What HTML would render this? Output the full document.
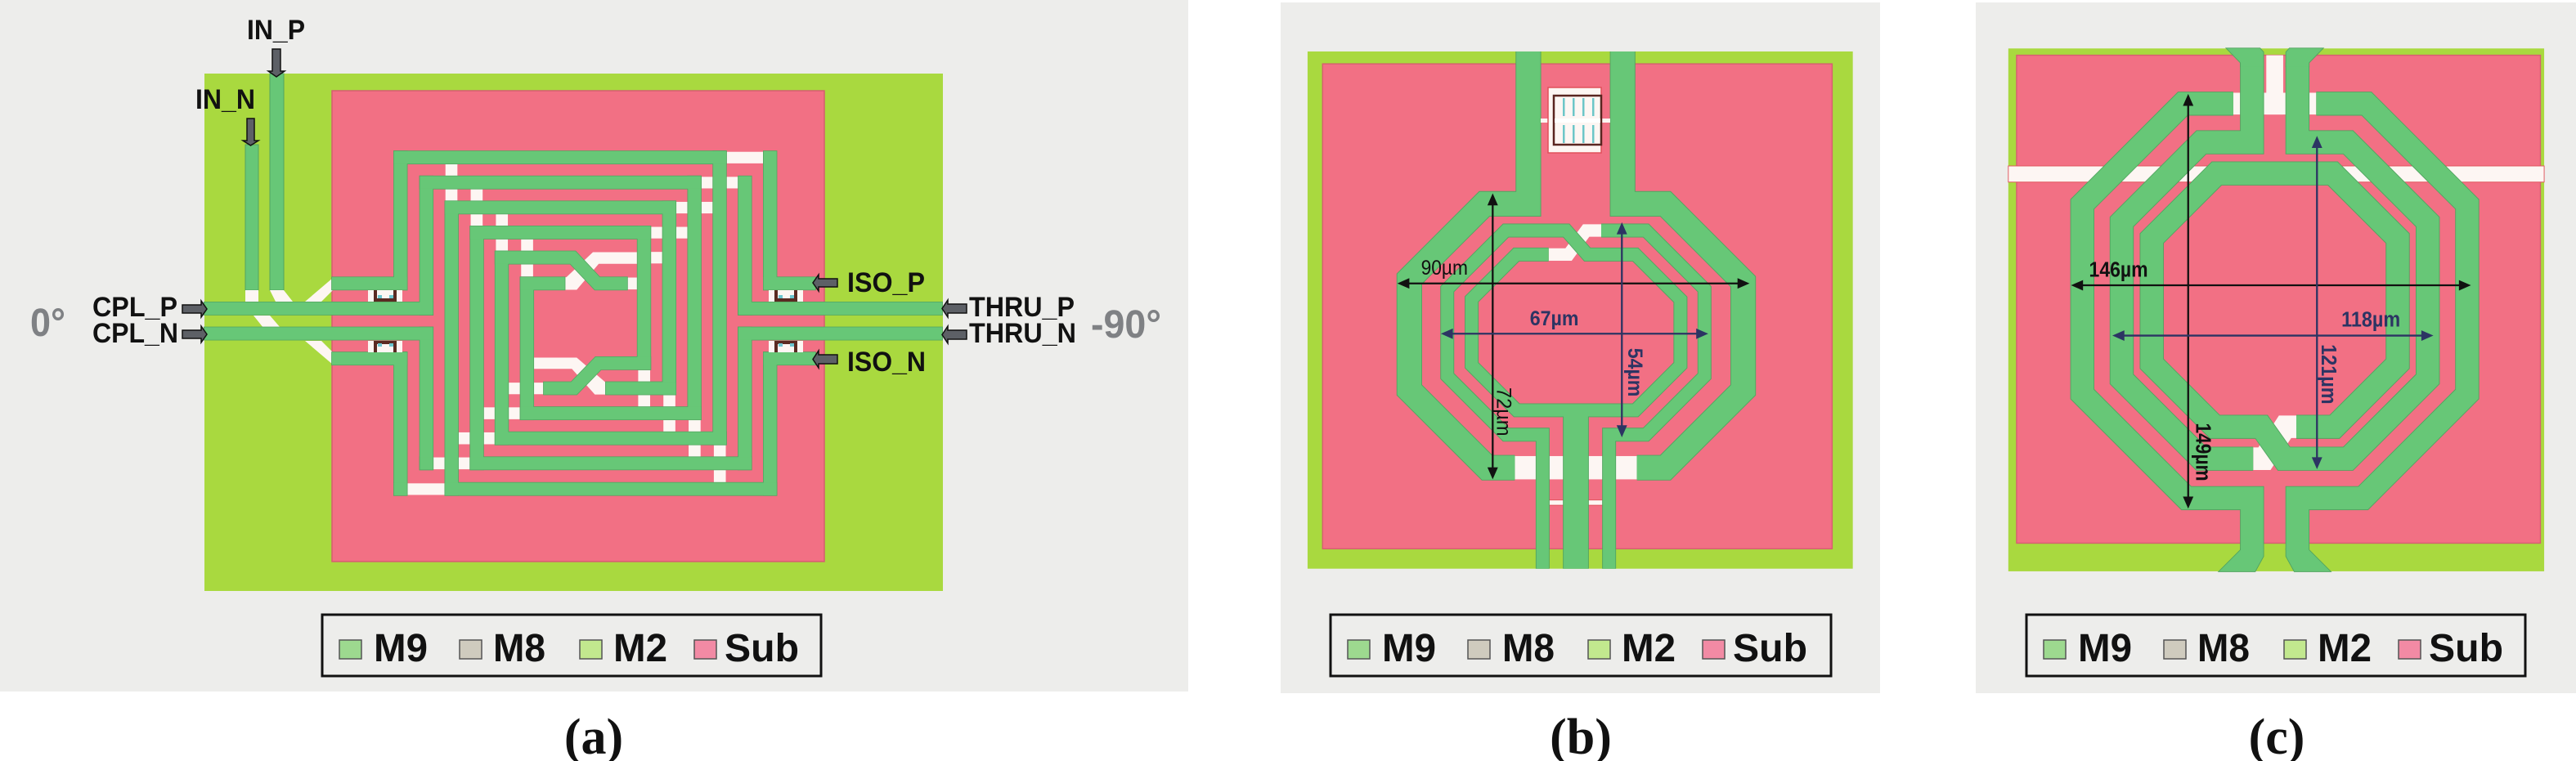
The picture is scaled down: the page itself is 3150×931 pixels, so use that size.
<!DOCTYPE html>
<html><head><meta charset="utf-8">
<style>
html,body{margin:0;padding:0;background:#fff;}
svg{display:block;}
text{font-family:"Liberation Sans",Arial,sans-serif;}
.lbl{font-weight:bold;font-size:34px;fill:#111;}
.deg{font-weight:bold;font-size:48px;fill:#7f8184;}
.leg{font-weight:bold;font-size:48px;fill:#111;}
.cap{font-family:"Liberation Serif","Times New Roman",serif;font-weight:bold;font-size:62px;fill:#111;}
.arr{fill:#5d6066;stroke:#111;stroke-width:1.5;}
</style></head><body>
<svg width="3150" height="931" viewBox="0 0 3150 931" xmlns="http://www.w3.org/2000/svg">
<defs>
<g id="spg">
  <rect x="207" y="222" width="40" height="443"/>
  <rect x="207" y="865" width="40" height="457"/>
  <rect x="287" y="302" width="40" height="443"/>
  <rect x="287" y="785" width="40" height="455"/>
  <rect x="365" y="382" width="40" height="940"/>
  <rect x="443" y="462" width="40" height="778"/>
  <rect x="520" y="542" width="40" height="618"/>
  <rect x="598" y="625" width="40" height="455"/>
  <rect x="960" y="462" width="40" height="458"/>
  <rect x="1038" y="382" width="40" height="618"/>
  <rect x="1116" y="302" width="40" height="778"/>
  <rect x="1194" y="222" width="40" height="938"/>
  <rect x="1272" y="302" width="40" height="443"/>
  <rect x="1272" y="785" width="40" height="455"/>
  <rect x="1350" y="222" width="40" height="443"/>
  <rect x="1350" y="865" width="40" height="457"/>
  <rect x="207" y="222" width="1027" height="40"/>
  <rect x="287" y="302" width="869" height="40"/>
  <rect x="365" y="382" width="713" height="40"/>
  <rect x="443" y="462" width="557" height="40"/>
  <polygon points="520,542 768,542 843,625 928,625 928,665 828,665 752,582 520,582"/>
  <rect x="598" y="625" width="137" height="40"/>
  <polygon points="1000,880 830,880 755,960 670,960 670,1000 772,1000 847,920 1000,920"/>
  <rect x="862" y="960" width="216" height="40"/>
  <rect x="598" y="1040" width="558" height="40"/>
  <rect x="520" y="1120" width="714" height="40"/>
  <rect x="443" y="1200" width="869" height="40"/>
  <rect x="287" y="1200" width="40" height="40"/>
  <rect x="365" y="1282" width="1025" height="40"/>
  <rect x="207" y="1282" width="40" height="40"/>
  <rect x="15" y="625" width="232" height="40"/>
  <rect x="-380" y="705" width="707" height="40"/>
  <rect x="-380" y="785" width="707" height="40"/>
  <rect x="15" y="865" width="232" height="40"/>
  <rect x="1350" y="625" width="160" height="40"/>
  <rect x="1272" y="705" width="630" height="40"/>
  <rect x="1272" y="785" width="630" height="40"/>
  <rect x="1350" y="865" width="160" height="40"/>
</g>
</defs>

<rect width="3150" height="931" fill="#fff"/>
<rect x="0" y="0" width="1453" height="846" fill="#ededeb"/>
<rect x="1566" y="3" width="733" height="845" fill="#ededeb"/>
<rect x="2416" y="3" width="734" height="845" fill="#ededeb"/>

<!-- ================= PANEL A ================= -->
<rect x="250" y="90" width="903" height="633" fill="#a9d93f"/>
<rect x="406" y="111" width="602" height="576" fill="#f27084" stroke="#d65e70" stroke-width="1.5"/>

<!-- IN feed lines -->
<rect x="330" y="90" width="17" height="265" fill="#67c777" stroke="#52a460" stroke-width="1"/>
<rect x="300" y="177" width="16" height="178" fill="#67c777" stroke="#52a460" stroke-width="1"/>
<!-- white underpass diagonals left -->
<g fill="#fdf6f3">
  <rect x="300" y="355" width="16" height="14"/>
  <polygon points="330,355 347,355 358,369 337,369"/>
  <polygon points="310,386 330,386 343,401 322,401"/>
  <polygon points="373,369 393,369 407,355 407,340"/>
  <polygon points="373,417 393,417 407,431 407,446"/>
</g>

<g transform="translate(400,100) scale(0.39541,0.38265)">
  <g fill="#fdf6f3">
    <rect x="366" y="263" width="37" height="38"/>
    <rect x="366" y="343" width="37" height="38"/>
    <rect x="444" y="343" width="37" height="38"/>
    <rect x="444" y="423" width="37" height="38"/>
    <rect x="522" y="423" width="37" height="38"/>
    <rect x="522" y="503" width="37" height="38"/>
    <rect x="600" y="503" width="37" height="38"/>
    <rect x="600" y="583" width="37" height="40"/>
    <rect x="1234" y="224" width="116" height="37"/>
    <rect x="1156" y="304" width="37" height="37"/>
    <rect x="1234" y="304" width="38" height="37"/>
    <rect x="1078" y="384" width="38" height="37"/>
    <rect x="1156" y="384" width="38" height="37"/>
    <rect x="1000" y="464" width="38" height="37"/>
    <rect x="1078" y="464" width="38" height="37"/>
    <rect x="1000" y="544" width="38" height="37"/>
    <rect x="928" y="626" width="32" height="38"/>
    <rect x="962" y="920" width="37" height="40"/>
    <rect x="560" y="962" width="38" height="37"/>
    <rect x="638" y="962" width="32" height="37"/>
    <rect x="962" y="1000" width="37" height="40"/>
    <rect x="1040" y="1000" width="37" height="40"/>
    <rect x="483" y="1041" width="37" height="38"/>
    <rect x="560" y="1041" width="38" height="38"/>
    <rect x="1040" y="1080" width="37" height="40"/>
    <rect x="1118" y="1080" width="37" height="40"/>
    <rect x="405" y="1121" width="38" height="38"/>
    <rect x="483" y="1121" width="37" height="38"/>
    <rect x="1118" y="1160" width="37" height="40"/>
    <rect x="1196" y="1160" width="37" height="40"/>
    <rect x="327" y="1201" width="38" height="38"/>
    <rect x="405" y="1201" width="38" height="38"/>
    <rect x="1196" y="1240" width="37" height="42"/>
    <rect x="247" y="1284" width="118" height="37"/>
    <polygon points="960,545 822,545 740,625 735,625 735,665 772,665 840,582 960,582"/>
    <polygon points="638,882 772,882 862,962 862,1000 828,1000 757,918 638,918"/>
  </g>
  <use href="#spg" fill="#67c777" stroke="#52a460" stroke-width="4"/>
  <use href="#spg" fill="#67c777"/>
</g>

<!-- vias -->
<g>
  <rect x="450" y="355" width="42" height="14" fill="#fdf6f3"/>
  <rect x="457" y="355" width="4" height="14" fill="#5a2a22"/><rect x="481" y="355" width="4" height="14" fill="#5a2a22"/><rect x="457" y="365" width="28" height="4" fill="#5a2a22"/>
  <rect x="462" y="361" width="5" height="4" fill="#6cc6d0"/><rect x="476" y="361" width="5" height="4" fill="#6cc6d0"/>
  <rect x="450" y="417" width="42" height="14" fill="#fdf6f3"/>
  <rect x="457" y="417" width="4" height="14" fill="#5a2a22"/><rect x="481" y="417" width="4" height="14" fill="#5a2a22"/><rect x="457" y="417" width="28" height="4" fill="#5a2a22"/>
  <rect x="462" y="420" width="5" height="4" fill="#6cc6d0"/><rect x="476" y="420" width="5" height="4" fill="#6cc6d0"/>
  <rect x="940" y="355" width="42" height="14" fill="#fdf6f3"/>
  <rect x="947" y="355" width="4" height="14" fill="#5a2a22"/><rect x="971" y="355" width="4" height="14" fill="#5a2a22"/><rect x="947" y="365" width="28" height="4" fill="#5a2a22"/>
  <rect x="952" y="361" width="5" height="4" fill="#6cc6d0"/><rect x="966" y="361" width="5" height="4" fill="#6cc6d0"/>
  <rect x="940" y="417" width="42" height="14" fill="#fdf6f3"/>
  <rect x="947" y="417" width="4" height="14" fill="#5a2a22"/><rect x="971" y="417" width="4" height="14" fill="#5a2a22"/><rect x="947" y="417" width="28" height="4" fill="#5a2a22"/>
  <rect x="952" y="420" width="5" height="4" fill="#6cc6d0"/><rect x="966" y="420" width="5" height="4" fill="#6cc6d0"/>
</g>

<!-- arrows -->
<polygon class="arr" points="333,60 343,60 343,87 348,87 338,94 328,87 333,87"/>
<polygon class="arr" points="302,145 311,145 311,172 316,172 306.5,178 297,172 302,172"/>
<polygon class="arr" points="223,373 246,373 246,368 253,378 246,388 246,383 223,383"/>
<polygon class="arr" points="223,404 246,404 246,399 253,409 246,419 246,414 223,414"/>
<polygon class="arr" points="1024,341 1001,341 1001,336 994,346 1001,356 1001,351 1024,351"/>
<polygon class="arr" points="1024,434 1001,434 1001,429 994,439.5 1001,450 1001,445 1024,445"/>
<polygon class="arr" points="1182,372 1159,372 1159,367 1152,377.5 1159,388 1159,383 1182,383"/>
<polygon class="arr" points="1182,404 1159,404 1159,399 1152,409.5 1159,420 1159,415 1182,415"/>

<!-- labels -->
<text class="lbl" x="302" y="48" textLength="71" lengthAdjust="spacingAndGlyphs">IN_P</text>
<text class="lbl" x="239" y="133" textLength="73" lengthAdjust="spacingAndGlyphs">IN_N</text>
<text class="lbl" x="113" y="387" textLength="104" lengthAdjust="spacingAndGlyphs">CPL_P</text>
<text class="lbl" x="113" y="419" textLength="105" lengthAdjust="spacingAndGlyphs">CPL_N</text>
<text class="lbl" x="1036" y="357" textLength="95" lengthAdjust="spacingAndGlyphs">ISO_P</text>
<text class="lbl" x="1036" y="454" textLength="96" lengthAdjust="spacingAndGlyphs">ISO_N</text>
<text class="lbl" x="1185" y="387" textLength="129" lengthAdjust="spacingAndGlyphs">THRU_P</text>
<text class="lbl" x="1185" y="419" textLength="131" lengthAdjust="spacingAndGlyphs">THRU_N</text>
<text class="deg" x="37" y="411" textLength="43" lengthAdjust="spacingAndGlyphs">0°</text>
<text class="deg" x="1334" y="413" textLength="86" lengthAdjust="spacingAndGlyphs">-90°</text>

<!-- ================= PANEL B ================= -->
<g transform="translate(1570,40) scale(0.459184)">
  <rect x="63" y="50" width="1452" height="1378" fill="#a9d93f"/>
  <rect x="103" y="83" width="1357" height="1292" fill="#f27084" stroke="#d65e70" stroke-width="3"/>
  <rect x="615" y="1128" width="325" height="62" fill="#fdf6f3"/>
  <rect x="706" y="1245" width="144" height="14" fill="#fdf6f3" stroke="#e0505a" stroke-width="2"/>
  <path d="M705,591 H758 L805,527 H845" fill="none" stroke="#fdf6f3" stroke-width="33"/>
  <g fill="none" stroke="#52a460" stroke-linejoin="miter" stroke-linecap="butt">
    <path d="M651,50 V456 H534 L334,656 V952 L541,1159 H615" stroke-width="68"/>
    <path d="M940,1159 H1016 L1223,952 V663 L1016,456 H902 V50" stroke-width="68"/>
    <path d="M689,1428 V1071 H591 L435,915 V683 L591,527 H752 L808,591 H936 L1056,711 V886 L936,1006 H620 L500,886 V710 L619,591 H705" stroke-width="37"/>
    <path d="M845,527 H964 L1120,683 V915 L964,1071 H866 V1428" stroke-width="37"/>
  </g>
  <rect x="743" y="995" width="69" height="433" fill="#52a460"/>
  <g fill="none" stroke="#67c777" stroke-linejoin="miter" stroke-linecap="butt">
    <path d="M651,50 V456 H534 L334,656 V952 L541,1159 H615" stroke-width="64"/>
    <path d="M940,1159 H1016 L1223,952 V663 L1016,456 H902 V50" stroke-width="64"/>
    <path d="M689,1428 V1071 H591 L435,915 V683 L591,527 H752 L808,591 H936 L1056,711 V886 L936,1006 H620 L500,886 V710 L619,591 H705" stroke-width="33"/>
    <path d="M845,527 H964 L1120,683 V915 L964,1071 H866 V1428" stroke-width="33"/>
  </g>
  <rect x="745" y="995" width="65" height="433" fill="#67c777"/>
  <!-- dims -->
  <g stroke="#111" stroke-width="5">
    <line x1="328" y1="668" x2="1214" y2="668"/>
    <line x1="556" y1="456" x2="556" y2="1162"/>
  </g>
  <g fill="#111">
    <polygon points="302,668 334,654 334,682"/>
    <polygon points="1240,668 1208,654 1208,682"/>
    <polygon points="556,428 542,460 570,460"/>
    <polygon points="556,1190 542,1158 570,1158"/>
  </g>
  <g stroke="#2c3463" stroke-width="5">
    <line x1="444" y1="802" x2="1104" y2="802"/>
    <line x1="900" y1="531" x2="900" y2="1052"/>
  </g>
  <g fill="#2c3463">
    <polygon points="418,802 450,788 450,816"/>
    <polygon points="1130,802 1098,788 1098,816"/>
    <polygon points="900,505 886,537 914,537"/>
    <polygon points="900,1078 886,1046 914,1046"/>
  </g>
  <text x="365" y="645" font-size="54" fill="#111" textLength="125" lengthAdjust="spacingAndGlyphs">90&#181;m</text>
  <text x="655" y="780" font-size="54" font-weight="bold" fill="#2c3463" textLength="130" lengthAdjust="spacingAndGlyphs">67&#181;m</text>
  <text transform="translate(567,945) rotate(90)" font-size="54" fill="#111" textLength="130" lengthAdjust="spacingAndGlyphs">72&#181;m</text>
  <text transform="translate(917,840) rotate(90)" font-size="54" font-weight="bold" fill="#2c3463" textLength="130" lengthAdjust="spacingAndGlyphs">54&#181;m</text>
</g>
<!-- capacitor -->
<g>
  <rect x="1884" y="145" width="85" height="5" fill="#fdf6f3"/>
  <rect x="1893" y="107" width="65" height="80" fill="#fdf6f3" stroke="#e0505a" stroke-width="1.5"/>
  <rect x="1900" y="117" width="58" height="60" fill="#fdf6f3" stroke="#5a2520" stroke-width="2.5"/>
  <rect x="1901" y="145" width="56" height="5" fill="#fff"/>
  <g fill="#6cc6c8">
    <rect x="1911" y="120" width="2.5" height="22"/><rect x="1923" y="120" width="2.5" height="22"/><rect x="1935" y="120" width="2.5" height="22"/><rect x="1947" y="120" width="2.5" height="22"/>
    <rect x="1911" y="153" width="2.5" height="22"/><rect x="1923" y="153" width="2.5" height="22"/><rect x="1935" y="153" width="2.5" height="22"/><rect x="1947" y="153" width="2.5" height="22"/>
  </g>
</g>

<!-- ================= PANEL C ================= -->
<g transform="translate(2420,40) scale(0.459184)">
  <rect x="78" y="42" width="1427" height="1393" fill="#a9d93f"/>
  <rect x="100" y="60" width="1395" height="1300" fill="#f27084" stroke="#d65e70" stroke-width="3"/>
  <rect x="78" y="355" width="1427" height="43" fill="#fdf6f3" stroke="#e0505a" stroke-width="2"/>
  <rect x="765" y="60" width="45" height="158" fill="#fdf6f3"/>
  <rect x="677" y="160" width="221" height="58" fill="#fdf6f3"/>
  <path d="M730,1135 H760 L815,1050 H845" fill="none" stroke="#fdf6f3" stroke-width="60"/>
  <g fill="none" stroke="#52a460" stroke-linejoin="miter" stroke-linecap="butt" stroke-width="64">
    <path d="M727,1378 V1240 H552 L275,963 V457 L543,189 H677"/>
    <path d="M898,189 H1032 L1300,457 V963 L1023,1240 H848 V1378"/>
    <path d="M727,80 V292 H592 L380,504 V923 L592,1135 H730"/>
    <path d="M845,1050 H947 L1115,882 V548 L942,375 H633 L460,548 V882 L628,1050 H752 L812,1135 H983 L1195,923 V504 L983,292 H848 V80"/>
  </g>
  <g fill="#52a460" stroke="#52a460" stroke-width="4">
    <polygon points="697,1375 757,1375 757,1395 735,1435 640,1435 697,1378"/>
    <polygon points="818,1375 878,1375 878,1378 935,1435 840,1435 818,1395"/>
    <polygon points="660,42 748,42 757,52 757,90 697,90 697,80"/>
    <polygon points="827,42 915,42 878,80 878,90 818,90 818,52"/>
  </g>
  <g fill="none" stroke="#67c777" stroke-linejoin="miter" stroke-linecap="butt" stroke-width="60">
    <path d="M727,1378 V1240 H552 L275,963 V457 L543,189 H677"/>
    <path d="M898,189 H1032 L1300,457 V963 L1023,1240 H848 V1378"/>
    <path d="M727,80 V292 H592 L380,504 V923 L592,1135 H730"/>
    <path d="M845,1050 H947 L1115,882 V548 L942,375 H633 L460,548 V882 L628,1050 H752 L812,1135 H983 L1195,923 V504 L983,292 H848 V80"/>
  </g>
  <g fill="#67c777">
    <polygon points="697,1375 757,1375 757,1395 735,1435 640,1435 697,1378"/>
    <polygon points="818,1375 878,1375 878,1378 935,1435 840,1435 818,1395"/>
    <polygon points="660,42 748,42 757,52 757,90 697,90 697,80"/>
    <polygon points="827,42 915,42 878,80 878,90 818,90 818,52"/>
  </g>
  <!-- dims -->
  <g stroke="#111" stroke-width="5">
    <line x1="271" y1="673" x2="1284" y2="673"/>
    <line x1="557" y1="191" x2="557" y2="1240"/>
  </g>
  <g fill="#111">
    <polygon points="245,673 277,659 277,687"/>
    <polygon points="1310,673 1278,659 1278,687"/>
    <polygon points="557,163 543,195 571,195"/>
    <polygon points="557,1268 543,1236 571,1236"/>
  </g>
  <g stroke="#2c3463" stroke-width="5">
    <line x1="381" y1="807" x2="1184" y2="807"/>
    <line x1="900" y1="301" x2="900" y2="1137"/>
  </g>
  <g fill="#2c3463">
    <polygon points="355,807 387,793 387,821"/>
    <polygon points="1210,807 1178,793 1178,821"/>
    <polygon points="900,275 886,307 914,307"/>
    <polygon points="900,1163 886,1131 914,1131"/>
  </g>
  <text x="293" y="650" font-size="56" font-weight="bold" fill="#111" textLength="157" lengthAdjust="spacingAndGlyphs">146&#181;m</text>
  <text x="965" y="783" font-size="56" font-weight="bold" fill="#2c3463" textLength="157" lengthAdjust="spacingAndGlyphs">118&#181;m</text>
  <text transform="translate(578,1040) rotate(90)" font-size="56" font-weight="bold" fill="#111" textLength="155" lengthAdjust="spacingAndGlyphs">149&#181;m</text>
  <text transform="translate(913,830) rotate(90)" font-size="56" font-weight="bold" fill="#2c3463" textLength="160" lengthAdjust="spacingAndGlyphs">121&#181;m</text>
</g>

<!-- ================= LEGENDS ================= -->
<g>
  <rect x="394" y="752" width="610" height="75" fill="#ededeb" stroke="#111" stroke-width="3"/>
  <rect x="415" y="783" width="27" height="23" fill="#9dd98f" stroke="#555" stroke-width="1.5"/>
  <text class="leg" x="457" y="809" textLength="66" lengthAdjust="spacingAndGlyphs">M9</text>
  <rect x="562" y="783" width="27" height="23" fill="#cfcbbe" stroke="#555" stroke-width="1.5"/>
  <text class="leg" x="603" y="809" textLength="64" lengthAdjust="spacingAndGlyphs">M8</text>
  <rect x="709" y="783" width="27" height="23" fill="#c2e88e" stroke="#555" stroke-width="1.5"/>
  <text class="leg" x="750" y="809" textLength="66" lengthAdjust="spacingAndGlyphs">M2</text>
  <rect x="849" y="783" width="27" height="23" fill="#f28aa4" stroke="#555" stroke-width="1.5"/>
  <text class="leg" x="886" y="809" textLength="91" lengthAdjust="spacingAndGlyphs">Sub</text>
</g>
<g>
  <rect x="1627" y="752" width="612" height="75" fill="#ededeb" stroke="#111" stroke-width="3"/>
  <rect x="1648" y="783" width="27" height="23" fill="#9dd98f" stroke="#555" stroke-width="1.5"/>
  <text class="leg" x="1690" y="809" textLength="66" lengthAdjust="spacingAndGlyphs">M9</text>
  <rect x="1795" y="783" width="27" height="23" fill="#cfcbbe" stroke="#555" stroke-width="1.5"/>
  <text class="leg" x="1837" y="809" textLength="64" lengthAdjust="spacingAndGlyphs">M8</text>
  <rect x="1942" y="783" width="27" height="23" fill="#c2e88e" stroke="#555" stroke-width="1.5"/>
  <text class="leg" x="1983" y="809" textLength="66" lengthAdjust="spacingAndGlyphs">M2</text>
  <rect x="2082" y="783" width="27" height="23" fill="#f28aa4" stroke="#555" stroke-width="1.5"/>
  <text class="leg" x="2119" y="809" textLength="91" lengthAdjust="spacingAndGlyphs">Sub</text>
</g>
<g>
  <rect x="2478" y="752" width="610" height="75" fill="#ededeb" stroke="#111" stroke-width="3"/>
  <rect x="2499" y="783" width="27" height="23" fill="#9dd98f" stroke="#555" stroke-width="1.5"/>
  <text class="leg" x="2541" y="809" textLength="66" lengthAdjust="spacingAndGlyphs">M9</text>
  <rect x="2646" y="783" width="27" height="23" fill="#cfcbbe" stroke="#555" stroke-width="1.5"/>
  <text class="leg" x="2687" y="809" textLength="64" lengthAdjust="spacingAndGlyphs">M8</text>
  <rect x="2793" y="783" width="27" height="23" fill="#c2e88e" stroke="#555" stroke-width="1.5"/>
  <text class="leg" x="2834" y="809" textLength="66" lengthAdjust="spacingAndGlyphs">M2</text>
  <rect x="2933" y="783" width="27" height="23" fill="#f28aa4" stroke="#555" stroke-width="1.5"/>
  <text class="leg" x="2970" y="809" textLength="91" lengthAdjust="spacingAndGlyphs">Sub</text>
</g>

<!-- captions -->
<text class="cap" x="726" y="922" text-anchor="middle">(a)</text>
<text class="cap" x="1933" y="922" text-anchor="middle">(b)</text>
<text class="cap" x="2784" y="922" text-anchor="middle">(c)</text>
</svg>
</body></html>
